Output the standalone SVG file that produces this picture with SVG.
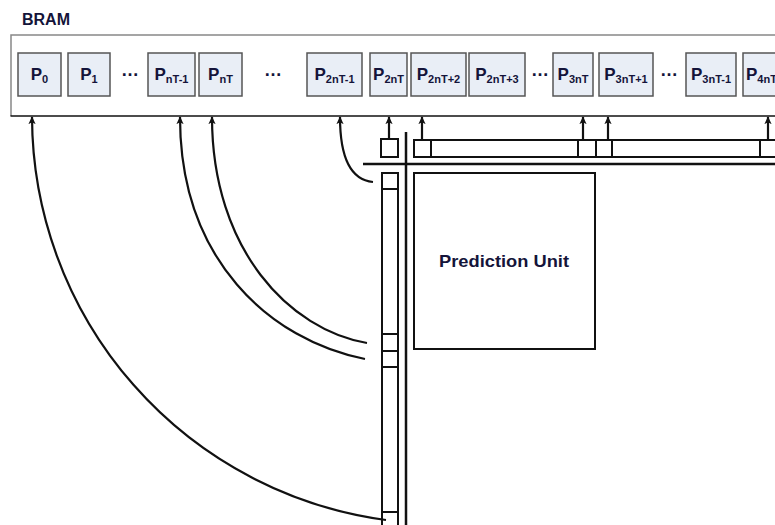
<svg xmlns="http://www.w3.org/2000/svg" width="775" height="525" viewBox="0 0 775 525">
<style>
text{font-family:"Liberation Sans",Arial,sans-serif;font-weight:bold;fill:#14143a}
.pbox{fill:#e9eef6;stroke:#555;stroke-width:1.5}
.p{font-size:17px;text-anchor:middle}
.sub{font-size:11px}
.dots{font-size:18px;text-anchor:middle}
.bar{fill:#fff;stroke:#111;stroke-width:2}
.ln{fill:none;stroke:#111;stroke-width:2}
.conn{fill:none;stroke:#111;stroke-width:2.2;marker-end:url(#ah)}
</style>
<defs>
<marker id="ah" viewBox="0 0 10 10" refX="9" refY="5" orient="auto" markerWidth="8" markerHeight="8" markerUnits="userSpaceOnUse">
<path d="M0,0.5 L10,5 L0,9.5 L2.5,5 z" fill="#111"/>
</marker>
</defs>
<rect width="775" height="525" fill="#fff"/>

<g id="bram">
<text x="22" y="25" font-size="16">BRAM</text>
<path d="M776,35 H11 V116" fill="none" stroke="#888" stroke-width="1.5"/>
<line x1="10.5" y1="116" x2="775" y2="116" stroke="#111" stroke-width="1.5"/>
</g>

<g id="p0"><rect class="pbox" x="18" y="53" width="43" height="43"/><text class="p" x="39.5" y="80">P<tspan class="sub" dy="3">0</tspan></text></g>
<g id="p1"><rect class="pbox" x="68" y="53" width="42" height="43"/><text class="p" x="89" y="80">P<tspan class="sub" dy="3">1</tspan></text></g>
<text class="dots" x="130" y="76">…</text>
<g id="pnt-1"><rect class="pbox" x="148" y="53" width="47" height="43"/><text class="p" x="171.5" y="80">P<tspan class="sub" dy="3">nT-1</tspan></text></g>
<g id="pnt"><rect class="pbox" x="199" y="53" width="43" height="43"/><text class="p" x="220.5" y="80">P<tspan class="sub" dy="3">nT</tspan></text></g>
<text class="dots" x="273" y="76">…</text>
<g id="p2nt-1"><rect class="pbox" x="307" y="53" width="55" height="43"/><text class="p" x="334.5" y="80">P<tspan class="sub" dy="3">2nT-1</tspan></text></g>
<g id="p2nt"><rect class="pbox" x="370" y="53" width="37" height="43"/><text class="p" x="388.5" y="80">P<tspan class="sub" dy="3">2nT</tspan></text></g>
<g id="p2nt2"><rect class="pbox" x="411" y="53" width="55" height="43"/><text class="p" x="438.5" y="80">P<tspan class="sub" dy="3">2nT+2</tspan></text></g>
<g id="p2nt3"><rect class="pbox" x="469" y="53" width="56" height="43"/><text class="p" x="497" y="80">P<tspan class="sub" dy="3">2nT+3</tspan></text></g>
<text class="dots" x="540" y="76">…</text>
<g id="p3nt"><rect class="pbox" x="553" y="53" width="40" height="43"/><text class="p" x="573" y="80">P<tspan class="sub" dy="3">3nT</tspan></text></g>
<g id="p3nt1"><rect class="pbox" x="599" y="53" width="54" height="43"/><text class="p" x="626" y="80">P<tspan class="sub" dy="3">3nT+1</tspan></text></g>
<text class="dots" x="669" y="76">…</text>
<g id="p3nt-1"><rect class="pbox" x="686" y="53" width="50" height="43"/><text class="p" x="711" y="80">P<tspan class="sub" dy="3">3nT-1</tspan></text></g>
<g id="p4nt"><rect class="pbox" x="743" y="53" width="50" height="43"/><text class="p" x="746" y="80" style="text-anchor:start">P<tspan class="sub" dy="3">4nT</tspan></text></g>

<g id="top-bar">
<rect class="bar" x="381" y="139" width="17" height="18"/>
<rect class="bar" x="414" y="140" width="365" height="17"/>
<path class="ln" d="M431,140 V157 M578,140 V157 M596,140 V157 M612,140 V157 M760,140 V157"/>
</g>

<g id="left-column">
<rect class="bar" x="382" y="173" width="16" height="360"/>
<path class="ln" d="M382,189 H398 M382,334 H398 M382,351 H398 M382,367 H398 M382,512 H398"/>
</g>

<g id="grid-lines">
<line x1="406" y1="132" x2="406" y2="525" stroke="#111" stroke-width="2.5"/>
<line x1="363" y1="164" x2="775" y2="164" stroke="#111" stroke-width="2.5"/>
</g>

<g id="prediction-unit">
<rect x="414" y="173" width="181" height="176" fill="#fff" stroke="#111" stroke-width="2"/>
<text x="504" y="267" font-size="17" text-anchor="middle" textLength="130" lengthAdjust="spacingAndGlyphs">Prediction Unit</text>
</g>

<g id="connectors">
<path class="conn" d="M386,520 A408,408 0 0 1 32,117"/>
<path class="conn" d="M365,359 C270,340 180,260 180,117"/>
<path class="conn" d="M367,343 C290,330 212,250 212,117"/>
<path class="conn" d="M373,182 C352,180 340,160 340,117"/>
<path class="conn" d="M389,139 V117"/>
<path class="conn" d="M422,140 V117"/>
<path class="conn" d="M583,140 V117"/>
<path class="conn" d="M608,140 V117"/>
<path class="conn" d="M768,140 V117"/>
</g>
</svg>
